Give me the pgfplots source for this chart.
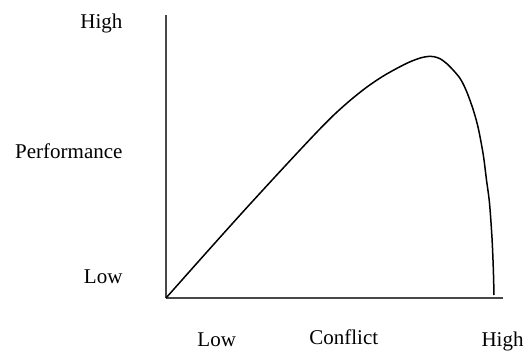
\documentclass[border=0pt]{standalone}
\usepackage{pgfplots}
\pgfplotsset{compat=1.18}
\usepackage{fontspec}
\setmainfont{Liberation Serif}
\newcommand{\lbl}{\fontsize{21}{25}\selectfont}
\begin{document}
\begin{tikzpicture}
\begin{axis}[
    scale only axis,
    width=337pt, height=283pt,
    xmin=0, xmax=337,
    ymin=0, ymax=283,
    axis x line=bottom,
    axis y line=left,
    axis line style={-, line width=1.6pt, black!72},
    ticks=none,
    clip=false
]
    \addplot[black, line width=1.5pt, smooth] coordinates {
        (0,0) (40,45) (80,89.5) (120,133) (150,165) (167.3,182.5)
        (184,197.5) (200.7,210.8) (217.3,222) (234,231.3) (245,236.6)
        (255,240.2) (262,241.5) (268,241.3) (274,239.3) (279,235.8)
        (284,231.3) (294,219.7) (300.7,206.3)
        (307.3,188) (312.3,169.7) (317.3,143) (320.5,118) (323.5,95)
        (326,60) (327.3,30) (328,3)
    };
    \node[anchor=base east, font=\lbl] at (axis cs:-40,269.7) {High};
    \node[anchor=base east, font=\lbl] at (axis cs:-40,139.7) {Performance};
    \node[anchor=base east, font=\lbl] at (axis cs:-40,14.7) {Low};
    \node[anchor=base, font=\lbl] at (axis cs:50.7,-48.7) {Low};
    \node[anchor=base, font=\lbl] at (axis cs:177.8,-46.3) {Conflict};
    \node[anchor=base, font=\lbl] at (axis cs:336.5,-48.7) {High};
    \useasboundingbox (axis cs:-166,-53) rectangle (axis cs:364,298);
\end{axis}
\end{tikzpicture}
\end{document}
